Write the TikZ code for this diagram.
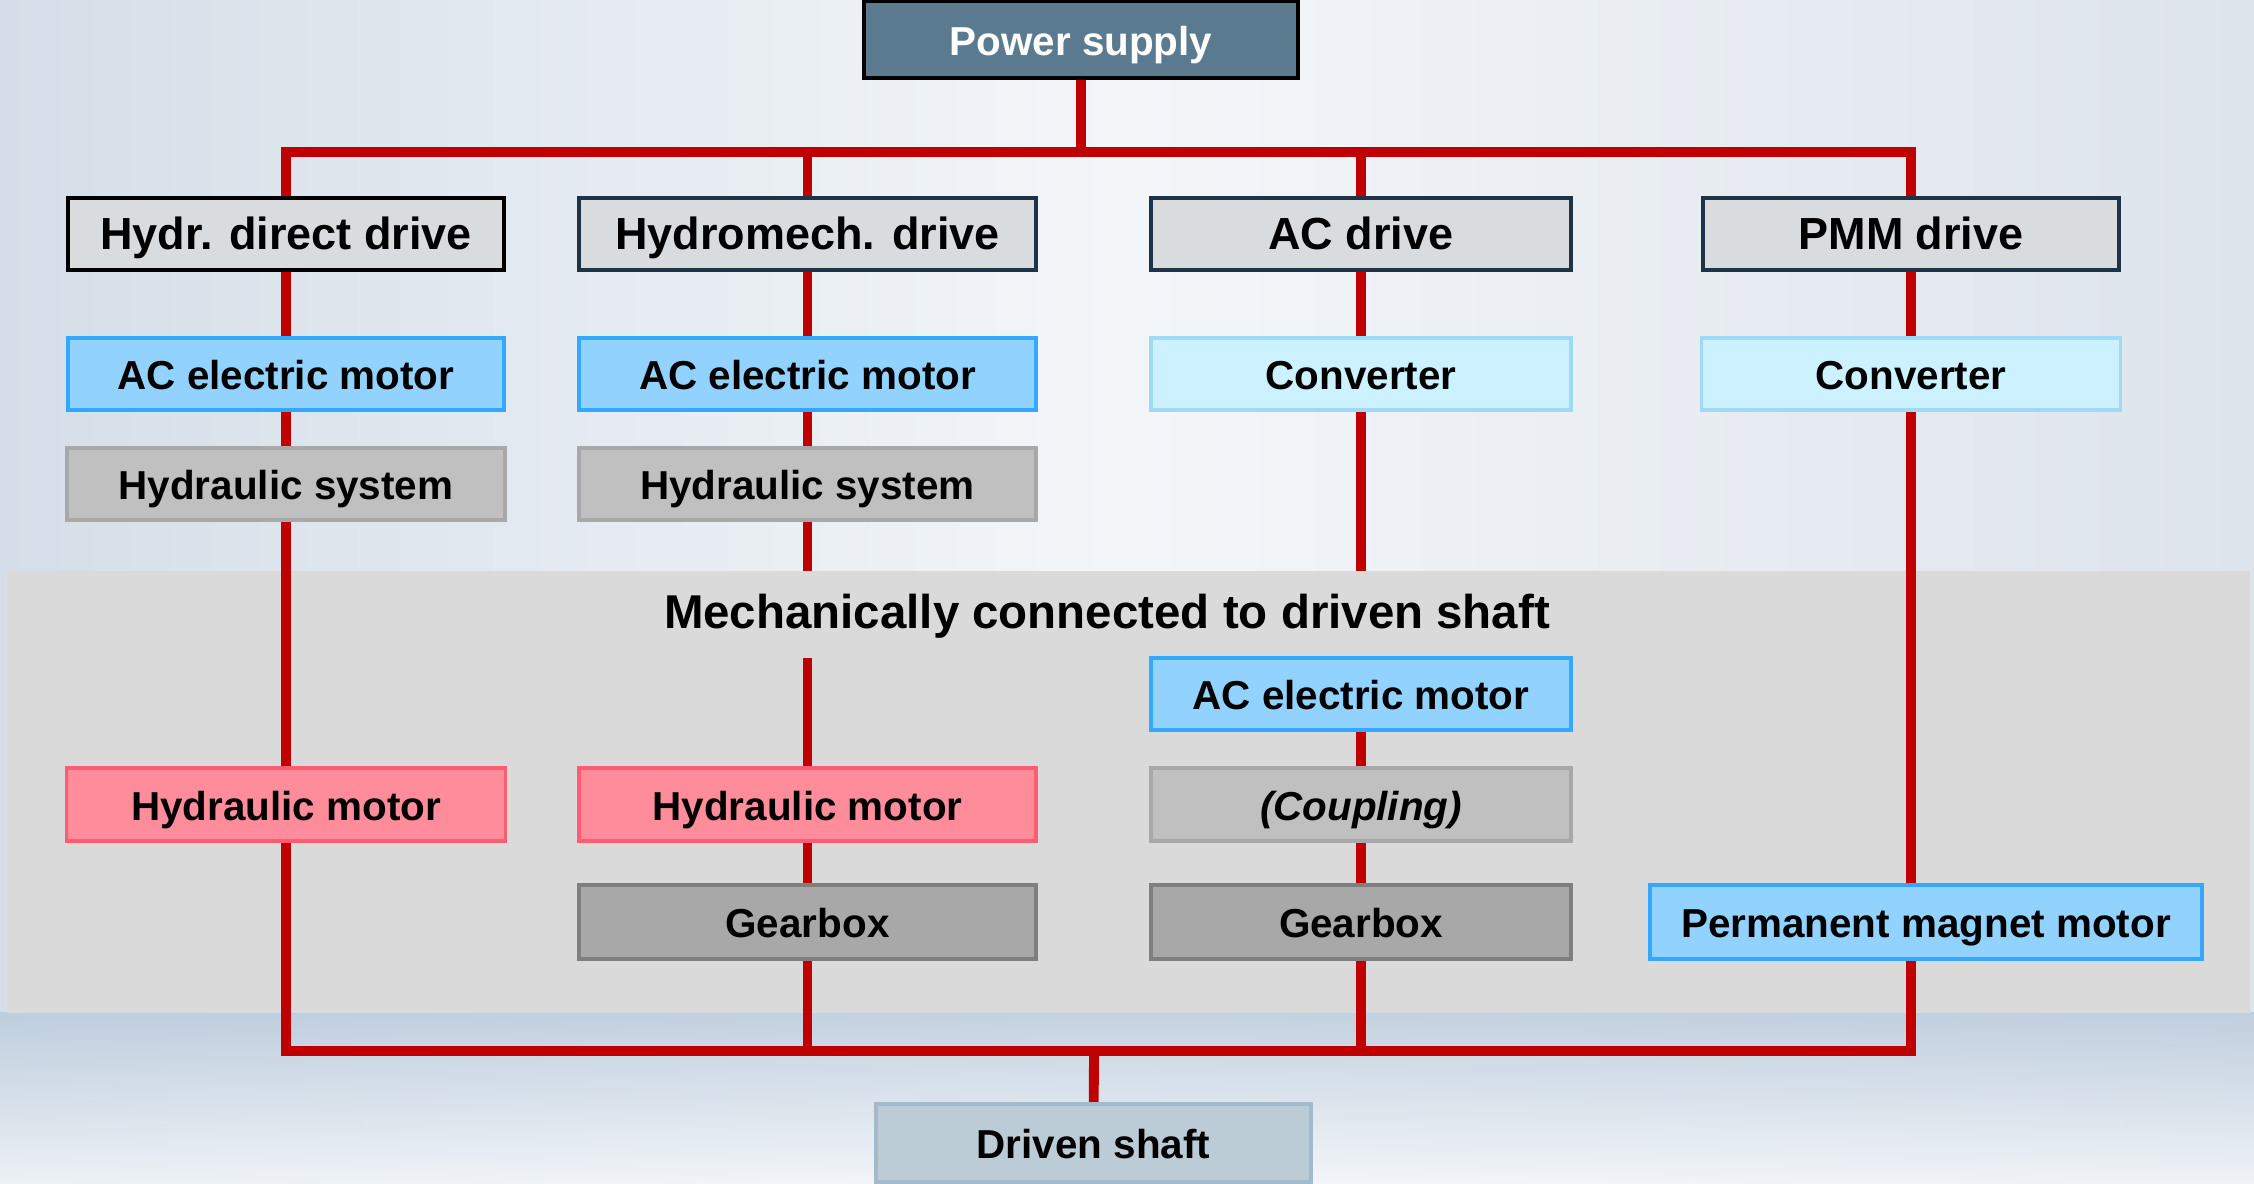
\documentclass[tikz,border=0pt]{standalone}
\usepackage{fontspec}
\setmainfont{Liberation Sans}
\usetikzlibrary{calc}

\pgfdeclarelayer{back}
\pgfdeclarelayer{wires}
\pgfsetlayers{back,wires,main}

\definecolor{bgside}{HTML}{D5DEE8}
\definecolor{bgmid}{HTML}{F3F6F9}
\definecolor{bgright}{HTML}{DEE4EC}
\definecolor{bandblue}{HTML}{B9CADB}
\definecolor{panelgray}{HTML}{DADADA}
\definecolor{pwrfill}{HTML}{5A7B8F}
\definecolor{hdrfill}{HTML}{D9DCDF}
\definecolor{hdrline}{HTML}{1E3348}
\definecolor{motfill}{HTML}{91D2FF}
\definecolor{motline}{HTML}{33A8FF}
\definecolor{convfill}{HTML}{CCF2FF}
\definecolor{convline}{HTML}{9ED9F7}
\definecolor{hydfill}{HTML}{C0C0C0}
\definecolor{hydline}{HTML}{A8A8A8}
\definecolor{hmfill}{HTML}{FF8C9A}
\definecolor{hmline}{HTML}{FF5C73}
\definecolor{gbfill}{HTML}{A8A8A8}
\definecolor{gbline}{HTML}{7F7F7F}
\definecolor{shaftfill}{HTML}{BBCCD6}
\definecolor{shaftline}{HTML}{A3BACB}
\definecolor{wirered}{HTML}{C00000}

\begin{document}
\begin{tikzpicture}[
  box/.style={draw, line width=1pt, minimum height=0.72cm, inner sep=0pt,
    text height=1.0em, text depth=0.1em,
    font=\bfseries\fontsize{11.5}{13}\selectfont},
  drivebox/.style={box, fill=hdrfill, draw=hdrline, font=\bfseries\fontsize{12.8}{14}\selectfont},
  elmotor/.style={box, fill=motfill, draw=motline},
  convbox/.style={box, fill=convfill, draw=convline},
  hydbox/.style={box, fill=hydfill, draw=hydline},
  hmotor/.style={box, fill=hmfill, draw=hmline},
  gearbox/.style={box, fill=gbfill, draw=gbline},
  wire/.style={draw=wirered, line width=2.8pt}
]
  \useasboundingbox (0,0) rectangle (22.54,11.84);
  \begin{pgfonlayer}{back}
    \shade[left color=bgside, right color=bgright, middle color=bgmid] (0,0) rectangle (22.54,11.84);
    % bluish band under the panel
    \shade[top color=bandblue, bottom color=bgmid, opacity=.8] (0,0) rectangle (22.54,1.71);
    % mechanically connected region
    \fill[panelgray] (0.07,1.71) rectangle (22.50,6.13);
  \end{pgfonlayer}

  \node[box, fill=pwrfill, draw=black, line width=1.3pt, text=white,
    minimum width=4.34cm, minimum height=0.77cm] (pwr) at (10.81,11.445) {Power supply};

  % drive types
  \node[drivebox, draw=black, minimum width=4.36cm] (hdd) at (2.86,9.50) {Hydr. direct drive};
  \node[drivebox, minimum width=4.57cm] (hmd) at (8.075,9.50) {Hydromech. drive};
  \node[drivebox, minimum width=4.20cm] (acd) at (13.61,9.50) {AC drive};
  \node[drivebox, minimum width=4.16cm] (pmd) at (19.11,9.50) {PMM drive};

  \node[elmotor, minimum width=4.36cm] (mot1) at (2.86,8.10) {AC electric motor};
  \node[elmotor, minimum width=4.57cm] (mot2) at (8.075,8.10) {AC electric motor};
  \node[convbox, minimum width=4.20cm] (conv1) at (13.61,8.10) {Converter};
  \node[convbox, minimum width=4.19cm] (conv2) at (19.11,8.10) {Converter};

  \node[hydbox, minimum width=4.38cm] (hyd1) at (2.86,7.00) {Hydraulic system};
  \node[hydbox, minimum width=4.57cm] (hyd2) at (8.075,7.00) {Hydraulic system};

  % inside the panel
  \node[fill=panelgray, minimum height=0.87cm, inner xsep=4pt, text height=0.95em, text depth=0.15em,
    font=\bfseries\fontsize{13.5}{15}\selectfont] (mech) at (11.07,5.695) {Mechanically connected to driven shaft};
  \node[elmotor, minimum width=4.20cm] (mot3) at (13.61,4.90) {AC electric motor};

  \node[hmotor, minimum width=4.39cm, minimum height=0.73cm] (hm1) at (2.86,3.795) {Hydraulic motor};
  \node[hmotor, minimum width=4.57cm, minimum height=0.73cm] (hm2) at (8.075,3.795) {Hydraulic motor};
  \node[hydbox, minimum width=4.20cm, minimum height=0.73cm] (coup) at (13.61,3.795) {\itshape (Coupling)};

  \node[gearbox, minimum width=4.57cm, minimum height=0.74cm] (gb1) at (8.075,2.62) {Gearbox};
  \node[gearbox, minimum width=4.20cm, minimum height=0.74cm] (gb2) at (13.61,2.62) {Gearbox};
  \node[elmotor, minimum width=5.52cm, minimum height=0.74cm] (pm) at (19.26,2.62) {Permanent magnet motor};

  \node[box, fill=shaftfill, draw=shaftline, minimum width=4.35cm, minimum height=0.78cm] (shaft) at (10.935,0.41) {Driven shaft};

  \coordinate (tbus) at (10.81,10.32);
  \coordinate (bbus) at (10.94,1.33);

  % red power/torque paths
  \begin{pgfonlayer}{wires}
    \draw[wire] (pwr) -- (tbus);
    \draw[wire] (hdd) |- (tbus) -| (pmd);
    \draw[wire] (hmd) -- (hmd |- tbus);
    \draw[wire] (acd) -- (acd |- tbus);
    \draw[wire] (hdd) -- (mot1) -- (hyd1) -- (hm1);
    \draw[wire] (hm1) |- (bbus) -| (pmd);
    \draw[wire] (hmd) -- (mot2) -- (hyd2) -- (hm2) -- (gb1) -- (gb1 |- bbus);
    \draw[wire] (acd) -- (conv1) -- (mot3) -- (coup) -- (gb2) -- (gb2 |- bbus);
    \draw[wire] (bbus) -- (shaft);
  \end{pgfonlayer}
\end{tikzpicture}
\end{document}
